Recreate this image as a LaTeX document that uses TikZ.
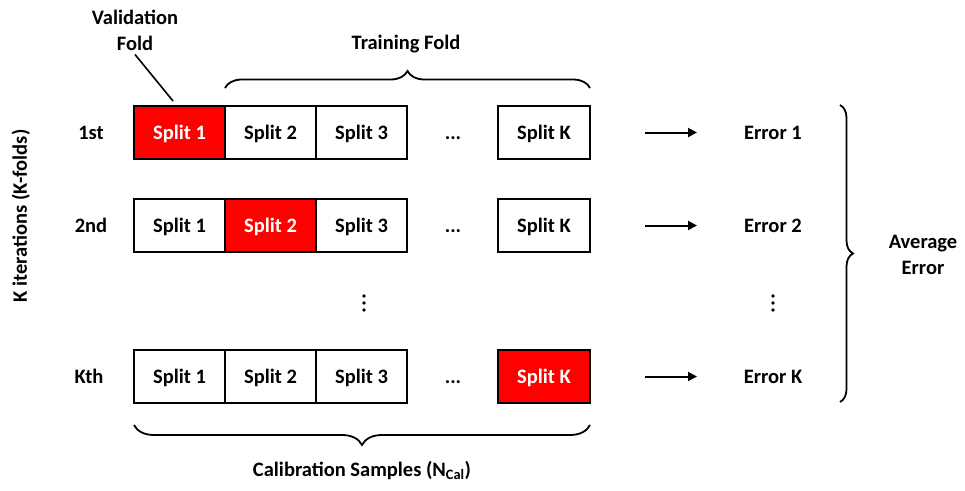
\documentclass[tikz,border=0pt]{standalone}
\usepackage{fontspec}
\setmainfont{Carlito}
\usetikzlibrary{arrows.meta,decorations.pathreplacing}
\begin{document}
\begin{tikzpicture}[x=1pt,y=-1pt,
  every node/.style={font=\fontsize{20.5}{26}\selectfont\bfseries},
  txt/.style={inner sep=0pt,text height=13.5pt,text depth=0pt},
  split/.style={draw=black,line width=2pt,minimum width=91pt,minimum height=53pt,inner sep=0pt,text height=13.5pt,text depth=0pt},
  val/.style={split,fill=red,text=white},
  brc/.style={decorate,line width=1.8pt,decoration={brace,amplitude=#1}},
  arr/.style={line width=2pt,-{Triangle[length=9pt,width=9pt]}},
  dot/.style={fill=black,draw=none}]
\useasboundingbox (0,0) rectangle (965,490);
\node[txt,rotate=90] (kit) at (20,216) {K iterations (K-folds)};
\node[txt] (r1) at (91,132.5) {1st};
\node[txt] (r2) at (91,225.5) {2nd};
\node[txt] (r3) at (89,376.5) {Kth};
% row 1
\node[val]   (a1) at (179.5,132.5) {Split 1};
\node[split] (a2) at (270.5,132.5) {Split 2};
\node[split] (a3) at (361.5,132.5) {Split 3};
\node[txt]   (ad) at (453,132.5) {...};
\node[split,minimum width=92pt] (ak) at (544,132.5) {Split K};
% row 2
\node[split] (b1) at (179.5,225.5) {Split 1};
\node[val]   (b2) at (270.5,225.5) {Split 2};
\node[split] (b3) at (361.5,225.5) {Split 3};
\node[txt]   (bd) at (453,225.5) {...};
\node[split,minimum width=92pt] (bk) at (544,225.5) {Split K};
% vertical dots
\foreach \yy in {296,303,310}{\fill[dot] (364,\yy) circle (1.9pt);}
% row K
\node[split] (c1) at (179.5,376.5) {Split 1};
\node[split] (c2) at (270.5,376.5) {Split 2};
\node[split] (c3) at (361.5,376.5) {Split 3};
\node[txt]   (cd) at (453,376.5) {...};
\node[val,minimum width=92pt] (ck) at (544,376.5) {Split K};
% errors
\node[txt] (e1) at (773,132.5) {Error 1};
\node[txt] (e2) at (773,225.5) {Error 2};
\foreach \yy in {296,303,310}{\fill[dot] (773,\yy) circle (1.9pt);}
\node[txt] (ek) at (773,376.5) {Error K};
\coordinate (s1) at (645,132.5); \coordinate (t1) at (697,132.5);
\coordinate (s2) at (645,225.5); \coordinate (t2) at (697,225.5);
\coordinate (s3) at (645,376.5); \coordinate (t3) at (697,376.5);
\draw[arr] (s1) -- (t1);
\draw[arr] (s2) -- (t2);
\draw[arr] (s3) -- (t3);
% labels
\node[align=center,inner sep=0pt] (vf) at (135,30) {Validation\\Fold};
\coordinate (vfe) at (173,101);
\draw[line width=1.6pt] (vf.south) ++(0,4) -- (vfe);
\node[txt] (tf) at (406,43) {Training Fold};
\coordinate (tb1) at (225,88); \coordinate (tb2) at (590,88);
\draw[brc=17pt] (tb1) -- (tb2);
\coordinate (bb1) at (134,425); \coordinate (bb2) at (590,425);
\draw[brc=20pt] (bb2) -- (bb1);
\node[txt] (cs) at (362,470) {Calibration Samples (N\textsubscript{Cal})};
\coordinate (rb1) at (840,105); \coordinate (rb2) at (840,402);
\draw[brc=13pt] (rb1) -- (rb2);
\node[align=center,inner sep=0pt] (ae) at (923,255) {Average\\Error};
\end{tikzpicture}
\end{document}
